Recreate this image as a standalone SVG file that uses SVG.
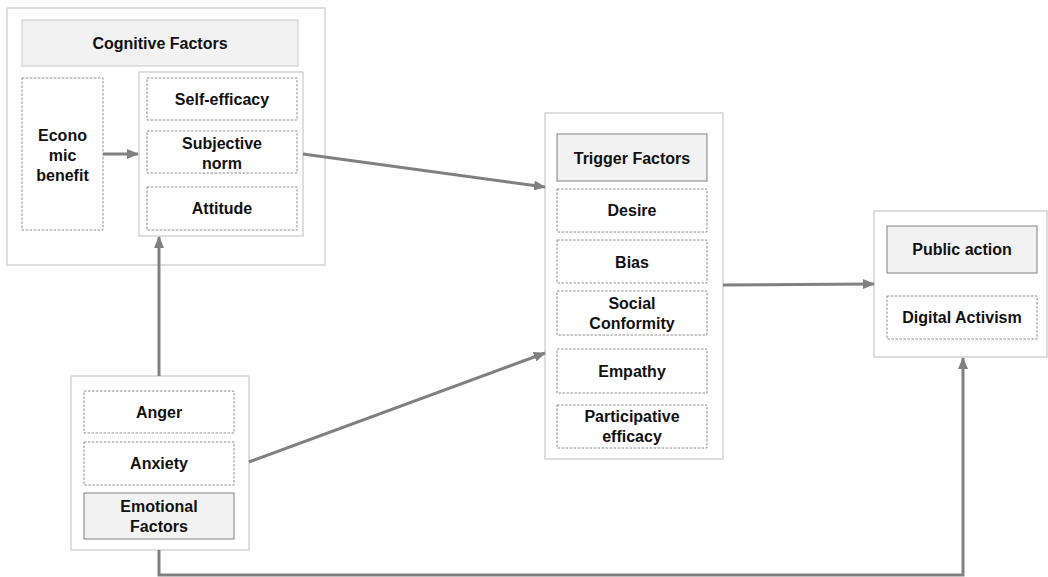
<svg xmlns="http://www.w3.org/2000/svg" width="1048" height="577" viewBox="0 0 1048 577">
<style>
.outer{fill:#fff;stroke:#c8c8c8;stroke-width:1.2}
.dash{fill:#fff;stroke:#808080;stroke-width:0.9;stroke-dasharray:2.5 1.5}
.title{fill:#f2f2f2;stroke:#808080;stroke-width:1}
.titleo{fill:#f2f2f2;stroke:#c8c8c8;stroke-width:1}
text{font-family:"Liberation Sans",Arial,sans-serif;font-weight:bold;font-size:16px;fill:#111;text-anchor:middle;dominant-baseline:central}
.con{fill:none;stroke:#808080;stroke-width:3}
</style>
<defs>
<marker id="ah" markerUnits="userSpaceOnUse" markerWidth="12" markerHeight="10" refX="11" refY="5" orient="auto">
<path d="M0,0 L12,5 L0,10 Z" fill="#808080"/>
</marker>
</defs>
<rect width="1048" height="577" fill="#fff"/>
<g id="cognitive">
<rect class="outer" x="7" y="8" width="318" height="257"/>
<rect class="titleo" x="22" y="20" width="276" height="46"/>
<text x="160" y="43">Cognitive Factors</text>
</g>
<g id="economic">
<rect class="dash" x="22" y="78" width="81" height="152"/>
<text x="62.5" y="135">Econo</text>
<text x="62.5" y="155">mic</text>
<text x="62.5" y="175">benefit</text>
</g>
<g id="cognitive-inner">
<rect class="outer" x="139" y="72" width="164" height="164"/>
<g id="self-efficacy">
<rect class="dash" x="147" y="78" width="150" height="42"/>
<text x="222" y="99">Self-efficacy</text>
</g>
<g id="subjective-norm">
<rect class="dash" x="147" y="131" width="150" height="42"/>
<text x="222" y="143">Subjective</text>
<text x="222" y="163">norm</text>
</g>
<g id="attitude">
<rect class="dash" x="147" y="187" width="150" height="43"/>
<text x="222" y="208">Attitude</text>
</g>
</g>
<g id="trigger">
<rect class="outer" x="545" y="113" width="178" height="346"/>
<rect class="title" x="557" y="134" width="150" height="47"/>
<text x="632" y="158">Trigger Factors</text>
<g id="desire"><rect class="dash" x="557" y="189" width="150" height="43"/><text x="632" y="210">Desire</text></g>
<g id="bias"><rect class="dash" x="557" y="240" width="150" height="43"/><text x="632" y="262">Bias</text></g>
<g id="social-conformity"><rect class="dash" x="557" y="291" width="150" height="44"/><text x="632" y="303">Social</text><text x="632" y="323">Conformity</text></g>
<g id="empathy"><rect class="dash" x="557" y="349" width="150" height="44"/><text x="632" y="371">Empathy</text></g>
<g id="participative-efficacy"><rect class="dash" x="557" y="405" width="150" height="43"/><text x="632" y="416">Participative</text><text x="632" y="436">efficacy</text></g>
</g>
<g id="public">
<rect class="outer" x="874" y="211" width="173" height="146"/>
<rect class="title" x="887" y="226" width="150" height="47"/>
<text x="962" y="249">Public action</text>
<g id="digital-activism"><rect class="dash" x="887" y="296" width="150" height="43"/><text x="962" y="317">Digital Activism</text></g>
</g>
<g id="emotional">
<rect class="outer" x="71" y="376" width="178" height="174"/>
<g id="anger"><rect class="dash" x="84" y="391" width="150" height="42"/><text x="159" y="412">Anger</text></g>
<g id="anxiety"><rect class="dash" x="84" y="442" width="150" height="43"/><text x="159" y="463">Anxiety</text></g>
<rect class="title" x="84" y="493" width="150" height="46"/>
<text x="159" y="506">Emotional</text>
<text x="159" y="526">Factors</text>
</g>
<g id="connectors">
<line class="con" x1="103" y1="154" x2="138" y2="154" marker-end="url(#ah)"/>
<line class="con" x1="303" y1="154" x2="545" y2="187" marker-end="url(#ah)"/>
<line class="con" x1="249" y1="462" x2="545" y2="353" marker-end="url(#ah)"/>
<line class="con" x1="723" y1="285" x2="874" y2="284" marker-end="url(#ah)"/>
<line class="con" x1="159" y1="376" x2="159" y2="237" marker-end="url(#ah)"/>
<polyline class="con" points="159,550 159,575 963,575 963,358" marker-end="url(#ah)"/>
</g>
</svg>
